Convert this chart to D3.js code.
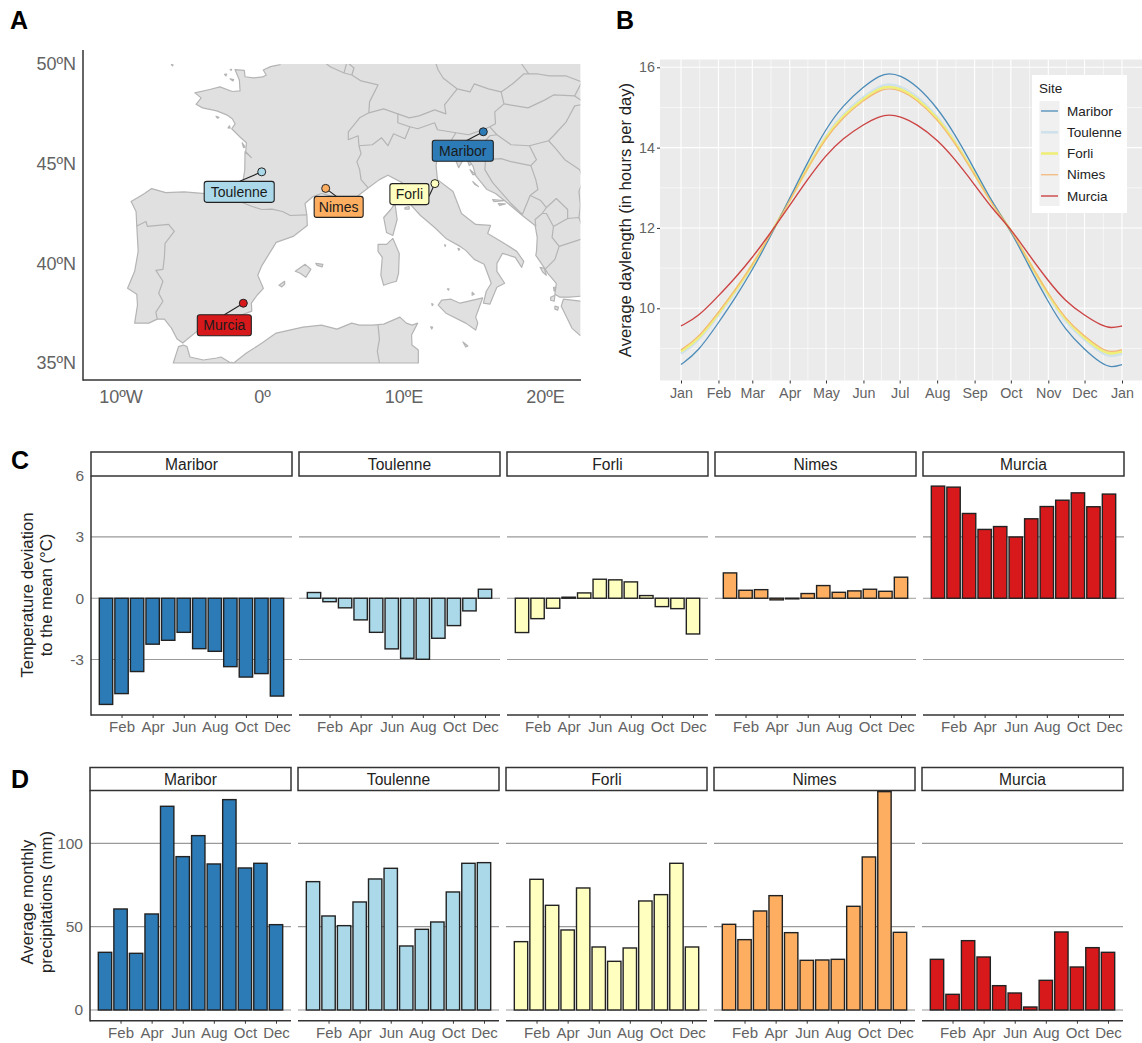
<!DOCTYPE html>
<html><head><meta charset="utf-8">
<script src="https://cdn.jsdelivr.net/npm/d3@7"></script>
<style>html,body{margin:0;padding:0;background:#fff;overflow:hidden}svg{display:block}text{font-family:"Liberation Sans",Arial,sans-serif}</style>
</head><body><svg id="c" width="1142" height="1043"></svg>
<script>
// ---------- data ----------
const sites = ["Maribor","Toulenne","Forli","Nimes","Murcia"];
const siteColors = ["#2c7bb6","#abd9e9","#ffffbf","#fdae61","#d7191c"];
const months = ["Jan","Feb","Mar","Apr","May","Jun","Jul","Aug","Sep","Oct","Nov","Dec"];
const evenMonths = ["Feb","Apr","Jun","Aug","Oct","Dec"];

// site locations, degrees
const siteLon = [15.64,-0.02,12.22,4.5,-1.32];
const siteLat = [46.6,44.59,44.0,43.76,38.0];

// temperature deviation to the mean (°C)
const tempMaribor = [-5.2,-4.67,-3.59,-2.25,-2.06,-1.67,-2.47,-2.6,-3.35,-3.86,-3.69,-4.79];
const tempToulenne = [0.28,-0.17,-0.47,-1.06,-1.67,-2.48,-2.94,-2.99,-1.96,-1.34,-0.62,0.44];
const tempForli = [-1.68,-1.0,-0.49,0.05,0.26,0.93,0.9,0.8,0.13,-0.41,-0.51,-1.75];
const tempNimes = [1.24,0.39,0.42,-0.08,-0.03,0.23,0.62,0.29,0.36,0.44,0.34,1.03];
const tempMurcia = [5.49,5.44,4.15,3.37,3.51,3.0,3.89,4.49,4.8,5.16,4.48,5.1];

// average monthly precipitation (mm)
const rainMaribor = [34.6,60.6,34,57.6,122.2,92,104.6,87.6,126.2,85.2,88,51.2];
const rainToulenne = [77,56.4,50.6,64.8,78.6,85,38.4,48.4,52.8,70.8,88,88.4];
const rainForli = [41,78.4,62.8,48,73.2,37.8,29.2,37.2,65.4,69.2,88,37.8];
const rainNimes = [51.4,42.2,59.4,68.6,46.4,29.8,30,30.4,62.2,91.8,131,46.6];
const rainMurcia = [30.4,9.4,41.6,31.8,14.6,10.2,1.8,17.8,46.8,25.8,37.4,34.6];

// daylength (hours per day)
const dayDates = ["2019-01-01","2019-01-15","2019-02-01","2019-02-15","2019-03-01","2019-03-15","2019-04-01","2019-04-15","2019-05-01","2019-05-15","2019-06-01","2019-06-15","2019-06-22","2019-07-01","2019-07-15","2019-08-01","2019-08-15","2019-09-01","2019-09-15","2019-10-01","2019-10-15","2019-11-01","2019-11-15","2019-12-01","2019-12-15","2019-12-23","2020-01-01"];
const dayMaribor = [8.60,8.91,9.64,10.26,10.95,11.73,12.74,13.59,14.48,15.05,15.52,15.81,15.85,15.81,15.55,15.00,14.37,13.46,12.66,11.94,11.10,10.15,9.46,8.97,8.62,8.52,8.60];
const dayToulenne = [8.87,9.16,9.83,10.40,11.04,11.77,12.70,13.49,14.31,14.84,15.27,15.55,15.58,15.54,15.30,14.79,14.21,13.37,12.63,11.95,11.18,10.30,9.66,9.21,8.88,8.79,8.87];
const dayForli = [8.93,9.21,9.87,10.44,11.06,11.78,12.69,13.46,14.28,14.79,15.22,15.49,15.52,15.48,15.24,14.75,14.18,13.35,12.62,11.96,11.20,10.34,9.71,9.26,8.94,8.85,8.93];
const dayNimes = [8.97,9.25,9.90,10.46,11.08,11.78,12.68,13.45,14.25,14.75,15.18,15.44,15.47,15.44,15.20,14.71,14.15,13.33,12.61,11.96,11.21,10.36,9.74,9.30,8.99,8.90,8.97];
const dayMurcia = [9.56,9.78,10.31,10.76,11.26,11.83,12.56,13.18,13.82,14.23,14.58,14.79,14.82,14.79,14.59,14.20,13.74,13.08,12.50,11.98,11.37,10.68,10.18,9.82,9.57,9.50,9.56];

// map: [lon, lat]
const mainland = [[1.27,49.97],[0.6,49.87],[0.09,49.7],[0.3,49.45],[0.05,49.35],[-0.61,49.3],[-1.2,49.36],[-1.25,49.68],[-1.91,49.72],[-1.6,49.2],[-1.55,48.65],[-2.1,48.62],[-2.97,48.85],[-3.7,48.72],[-4.74,48.55],[-4.3,48.3],[-4.66,47.98],[-4.2,47.8],[-3.2,47.65],[-2.5,47.45],[-2.1,47.25],[-1.9,47.0],[-2.14,46.75],[-1.5,46.3],[-1.1,46.05],[-1.15,45.6],[-0.75,45.3],[-1.2,45.6],[-1.22,44.67],[-1.43,43.76],[-1.78,43.37],[-3,43.45],[-3.8,43.48],[-5.5,43.58],[-6.8,43.55],[-7.8,43.75],[-8.3,43.5],[-9.25,43.1],[-8.9,42.6],[-8.85,41.87],[-8.75,40.6],[-9.0,39.6],[-9.5,38.75],[-8.85,38.45],[-8.8,37.9],[-9.0,37.0],[-8.0,37.0],[-7.4,37.2],[-6.9,37.2],[-6.4,36.75],[-6.0,36.2],[-5.6,36.0],[-5.35,36.15],[-4.4,36.7],[-3.5,36.7],[-2.7,36.72],[-2.2,36.72],[-1.65,37.35],[-0.72,37.6],[-0.75,38.0],[-0.35,38.4],[0.1,38.74],[-0.3,39.4],[0.0,39.9],[0.7,40.7],[1.0,41.05],[2.2,41.35],[3.2,41.9],[3.17,42.43],[3.04,43.0],[3.6,43.35],[4.2,43.5],[4.9,43.38],[5.4,43.2],[6.2,43.05],[6.9,43.45],[7.5,43.78],[8.3,44.2],[8.9,44.42],[9.9,44.05],[10.3,43.5],[10.5,42.95],[11.2,42.4],[12.2,41.8],[13.0,41.25],[14.0,40.85],[14.4,40.65],[15.0,40.2],[15.7,39.95],[16.2,39.0],[15.85,38.6],[15.65,38.0],[16.1,37.95],[16.6,38.8],[17.15,39.0],[16.6,39.6],[16.6,40.0],[17.0,40.5],[17.9,40.3],[18.35,39.8],[18.5,40.1],[18.0,40.6],[16.9,41.1],[15.95,41.5],[16.15,41.9],[15.1,41.95],[14.1,42.5],[13.5,43.6],[12.4,44.2],[12.3,44.9],[12.4,45.4],[13.1,45.7],[13.75,45.65],[13.55,45.4],[13.9,44.8],[14.3,45.3],[14.9,44.9],[15.1,44.4],[15.9,43.7],[16.5,43.5],[17.4,43.0],[18.4,42.4],[19.3,41.9],[19.45,41.3],[19.4,40.6],[19.35,40.4],[19.88,39.85],[20.2,39.5],[20.8,39.0],[20.7,38.45],[21.06,38.3],[21.7,38.3],[22.5,38.35],[23,38.35],[23,50.5],[1.27,50.5]];
const africa = [[-6.27,35],[-5.9,35.82],[-5.56,35.9],[-5.3,35.82],[-5.09,35.3],[-4.14,35.15],[-3.2,35.25],[-2.9,35.3],[-2.2,35.0],[-2.0,35],[-1.1,35.5],[0.0,36.0],[1.0,36.5],[2.9,36.8],[4.2,36.9],[5.3,36.7],[6.34,37.0],[6.9,36.9],[7.8,36.9],[8.6,36.95],[9.75,37.3],[10.2,37.0],[10.6,36.9],[11.0,37.0],[10.57,36.4],[10.6,35.9],[11.05,35.65],[11.05,35.0]];
const sicily = [[12.45,37.9],[12.7,38.15],[13.35,38.2],[14.0,38.0],[15.6,38.27],[15.1,37.3],[15.25,37.0],[15.1,36.65],[14.4,37.0],[13.0,37.5]];
const sardinia = [[8.2,40.95],[8.8,40.95],[9.25,41.25],[9.7,40.5],[9.65,39.5],[9.5,39.1],[9.0,39.0],[8.6,38.9],[8.4,39.4],[8.5,40.3],[8.2,40.6]];
const corsica = [[9.4,43.0],[9.55,42.2],[9.25,41.4],[8.8,41.55],[8.6,42.3],[9.1,42.7]];
const peloponnese = [[21.3,38.2],[22.5,38.1],[23,38],[23,36.3],[22.45,36.4],[21.9,36.75],[21.6,37.2],[21.15,37.85]];
const mallorca = [[2.35,39.6],[3.05,39.95],[3.45,39.7],[3.1,39.3],[2.7,39.5]];
const menorca = [[3.8,40.0],[4.3,39.95],[4.25,39.82],[3.9,39.9]];
const ibiza = [[1.2,38.9],[1.6,39.1],[1.6,38.95],[1.4,38.82]];
const corfu = [[19.65,39.8],[19.95,39.75],[20.1,39.4],[19.85,39.55]];
const kefalonia = [[20.4,38.3],[20.7,38.4],[20.65,38.1],[20.4,38.15]];
const zakynthos = [[20.7,37.85],[20.95,37.8],[20.9,37.65],[20.7,37.7]];
const lefkada = [[20.6,38.8],[20.75,38.8],[20.65,38.6]];
const malta = [[14.2,36.05],[14.55,35.85],[14.4,35.8]];
const elba = [[10.1,42.8],[10.4,42.85],[10.4,42.72],[10.1,42.72]];
const krk = [[14.5,45.2],[14.8,45.0],[14.65,44.9]];
const pag = [[14.7,44.7],[15.1,44.45],[14.9,44.45]];
const hvar = [[16.3,43.2],[17.1,43.15],[16.4,43.1]];
const korcula = [[16.7,43.0],[17.2,42.98],[16.8,42.9]];
const dugi = [[14.9,44.1],[15.3,43.85],[15.05,43.95]];
const oleron = [[-1.4,46.05],[-1.2,45.85],[-1.3,45.8]];
const re = [[-2.4,46.8],[-2.3,46.9],[-2.25,46.78]];
const belleIle = [[-3.25,47.38],[-3.05,47.32],[-3.15,47.28]];
const jersey = [[-2.25,49.25],[-2.0,49.22],[-2.05,49.15]];
const guernsey = [[-2.65,49.48],[-2.5,49.5],[-2.55,49.4]];
const alderney = [[-2.25,49.72],[-2.15,49.73],[-2.18,49.68]];
const pantelleria = [[11.92,36.82],[12.06,36.8],[12.0,36.7]];
const ustica = [[13.1,38.72],[13.22,38.72],[13.18,38.65]];
const egadi = [[12.0,37.98],[12.1,37.95],[12.03,37.88]];
const lipari = [[14.85,38.55],[15.0,38.45],[14.85,38.4]];
const capri = [[13.85,40.75],[13.97,40.72],[13.92,40.65]];
const ponza = [[12.9,40.93],[12.98,40.92],[12.95,40.85]];
const scilly = [[-6.4,49.97],[-6.28,49.96],[-6.33,49.9]];
const landShapes = [mainland,africa,sicily,sardinia,corsica,peloponnese,mallorca,menorca,ibiza,corfu,kefalonia,zakynthos,lefkada,malta,elba,krk,pag,hvar,korcula,dugi,oleron,re,belleIle,jersey,guernsey,alderney,pantelleria,ustica,egadi,lipari,capri,ponza,scilly];

const bPyrenees = [[-1.78,43.37],[-1.4,43.05],[-0.7,42.85],[0.0,42.7],[0.7,42.72],[1.45,42.6],[2.0,42.4],[3.17,42.43]];
const bPortugal = [[-8.85,41.87],[-8.2,42.1],[-8.1,41.85],[-6.6,41.95],[-6.2,41.6],[-6.85,41],[-6.9,40.3],[-7.0,39.7],[-7.5,39.65],[-7.0,39.1],[-7.3,38.5],[-7.0,38.1],[-7.5,37.55],[-7.4,37.2]];
const bFranceNorth = [[4.2,50.2],[4.85,49.85],[5.8,49.55],[6.35,49.45],[7.0,49.15],[8.2,48.95],[7.6,48.1],[7.55,47.55]];
const bLux = [[5.8,49.55],[6.0,50.1],[6.5,49.8],[6.35,49.45]];
const bFranceSwiss = [[7.55,47.55],[6.9,47.3],[6.1,46.6],[6.1,46.2],[6.8,46.4],[6.85,45.9]];
const bFranceItaly = [[7.5,43.78],[7.0,44.2],[6.9,44.7],[6.7,45.1],[7.0,45.5],[6.85,45.9]];
const bSwissItaly = [[6.85,45.9],[7.8,45.95],[8.45,46.3],[8.9,45.9],[9.3,46.5],[10.1,46.25],[10.45,46.85]];
const bSwissNorth = [[7.55,47.55],[8.6,47.75],[9.6,47.5],[9.6,47.05],[10.45,46.85]];
const bGermanyAustria = [[9.6,47.5],[10.4,47.3],[11.1,47.4],[12.2,47.7],[13.0,47.5],[12.9,47.95],[13.4,48.4],[13.8,48.75]];
const bGermanyCzech = [[13.8,48.75],[12.8,49.3],[12.45,49.7],[12.2,50.2]];
const bItalyAustria = [[10.45,46.85],[11,46.75],[12.2,47.05],[12.4,46.7],[13.7,46.55]];
const bItalySlovenia = [[13.7,46.55],[13.4,46.2],[13.6,45.9],[13.75,45.65]];
const bAustriaSlovenia = [[13.7,46.55],[14.6,46.45],[15.6,46.7],[16.1,46.85]];
const bAustriaHungary = [[16.1,46.85],[16.5,47.0],[16.45,47.6],[17.1,48.0]];
const bAustriaCzech = [[13.8,48.75],[14.7,48.6],[15.0,49.0],[16.0,48.75],[16.9,48.6],[17.1,48.0]];
const bCzechSlovakia = [[16.9,48.6],[17.7,49.0],[18.5,49.5],[18.85,49.5]];
const bCzechPoland = [[18.85,49.5],[18.4,49.95],[18.2,50.2]];
const bSlovakiaPoland = [[18.85,49.5],[19.5,49.5],[20.3,49.4],[21.5,49.4],[22.6,49.1]];
const bSlovakiaHungary = [[17.1,48.0],[18.8,47.8],[20.0,48.2],[20.6,48.45],[22.1,48.4]];
const bSlovakiaUkraine = [[22.6,49.1],[22.1,48.4],[22.9,48.0]];
const bHungaryRomania = [[22.9,48.0],[22.1,47.9],[21.5,47.1],[20.6,46.4],[20.25,46.15]];
const bHungarySouth = [[16.1,46.85],[16.6,46.45],[17.6,45.95],[18.9,45.9],[20.25,46.15]];
const bRomaniaSerbia = [[20.25,46.15],[20.7,45.8],[21.4,45.2],[22.45,44.7],[22.7,44.2]];
const bSerbiaBulgaria = [[22.7,44.2],[22.4,43.6],[22.5,42.9],[22.4,42.3]];
const bSerbiaCroatia = [[18.9,45.9],[19.4,45.2],[19.0,44.9]];
const bSloveniaCroatia = [[13.6,45.45],[14.6,45.6],[15.3,45.5],[15.6,46.0],[16.1,46.4],[16.6,46.45]];
const bCroatiaBosnia = [[19.0,44.9],[17.6,45.1],[16.9,45.25],[15.8,45.2],[15.75,44.7],[16.3,44.05],[17.6,43.0],[18.4,42.45]];
const bBosniaSerbia = [[19.0,44.9],[19.35,44.2],[19.5,43.7],[18.95,43.4],[18.4,42.45]];
const bMontenegro = [[18.95,43.4],[19.7,43.15],[20.1,42.8],[19.8,42.5],[19.3,42.2],[19.35,41.85]];
const bKosovo = [[20.1,42.8],[20.8,43.25],[21.6,42.7],[21.6,42.25],[20.6,41.85],[20.1,42.5],[19.8,42.5]];
const bAlbania = [[20.6,41.85],[20.5,41.3],[21.0,40.85],[20.7,40.2],[20.0,39.7]];
const bMacedonia = [[21.0,40.85],[22.3,41.15],[22.9,41.3],[22.4,42.3],[21.6,42.25]];
const bAlgeriaMorocco = [[-2.0,35],[-2.2,35.05]];
const bAlgeriaTunisia = [[8.2,36.9],[8.3,36.2],[8.15,35.6],[8.3,35]];
const borderLines = [bPyrenees,bPortugal,bFranceNorth,bLux,bFranceSwiss,bFranceItaly,bSwissItaly,bSwissNorth,bGermanyAustria,bGermanyCzech,bItalyAustria,bItalySlovenia,bAustriaSlovenia,bAustriaHungary,bAustriaCzech,bCzechSlovakia,bCzechPoland,bSlovakiaPoland,bSlovakiaHungary,bSlovakiaUkraine,bHungaryRomania,bHungarySouth,bRomaniaSerbia,bSerbiaBulgaria,bSerbiaCroatia,bSloveniaCroatia,bCroatiaBosnia,bBosniaSerbia,bMontenegro,bKosovo,bAlbania,bMacedonia,bAlgeriaMorocco,bAlgeriaTunisia];

// ---------- drawing ----------
const svg = d3.select("#c");
const dark = "#333", tickCol = "#636363";
function tag(s,x,y){svg.append("text").attr("x",x).attr("y",y).attr("font-size",25).attr("font-weight","bold").attr("fill","#000").text(s);}
tag("A",10,29);tag("B",616,29);tag("C",11,469);tag("D",11,788);

// ----- A: map -----
const lonS = d3.scaleLinear().domain([-10,20]).range([120.5,545]);
const latS = d3.scaleLinear().domain([35,50]).range([363,64]);
const gA = svg.append("g");
gA.append("clipPath").attr("id","mapClip").append("rect").attr("x",84).attr("y",latS(50)).attr("width",lonS(22.5)-84).attr("height",latS(35)-latS(50)+1.2);
const lineGeo = d3.line().x(d=>lonS(d[0])).y(d=>latS(d[1]));
const mapG = gA.append("g").attr("clip-path","url(#mapClip)");
mapG.selectAll("path.land").data(landShapes).join("path").attr("class","land")
  .attr("d",d=>lineGeo(d)+"Z").attr("fill","#e0e0e0").attr("stroke","#b4b4b4").attr("stroke-width",1.2).attr("stroke-linejoin","round");
mapG.selectAll("path.border").data(borderLines).join("path").attr("class","border")
  .attr("d",lineGeo).attr("fill","none").attr("stroke","#b4b4b4").attr("stroke-width",1.2).attr("stroke-linejoin","round");

const axM = gA.append("g").attr("transform","translate(0,380)")
  .call(d3.axisBottom(lonS).tickValues([-10,0,10,20]).tickSize(0).tickPadding(10).tickFormat(d=>d<0?(-d)+"ºW":d>0?d+"ºE":"0º"));
const ayM = gA.append("g").attr("transform","translate(83,0)")
  .call(d3.axisLeft(latS).tickValues([35,40,45,50]).tickSize(0).tickPadding(7).tickFormat(d=>d+"ºN"));
[axM,ayM].forEach(a=>{a.select(".domain").remove();a.selectAll("text").attr("font-size",18).attr("font-family",null).attr("fill",tickCol);});
gA.append("line").attr("x1",83).attr("x2",83).attr("y1",50).attr("y2",380.7).attr("stroke",dark).attr("stroke-width",1.5);
gA.append("line").attr("x1",83).attr("x2",581).attr("y1",380).attr("y2",380).attr("stroke",dark).attr("stroke-width",1.5);

// label boxes are placed by screen offset from each site's marker
const labelDx = [-20.5,-22.5,-25.5,13,-19]; // box centre minus marker x
const labelDy = [19,20,10.5,18.5,22];        // box centre minus marker y
const labelW = [61,70,39,49,54];
const leadDx = [-17,-22,-6,14,-19];         // leader end minus marker x
const leadDy = [9,9.5,13,10.5,11.5];        // leader end minus marker y
sites.forEach((s,i)=>{
  const mx=lonS(siteLon[i]), my=latS(siteLat[i]);
  const g=gA.append("g");
  g.append("line").attr("x1",mx).attr("y1",my).attr("x2",mx+leadDx[i]).attr("y2",my+leadDy[i]).attr("stroke","#222").attr("stroke-width",1.1);
  g.append("rect").attr("x",mx+labelDx[i]-labelW[i]/2).attr("y",my+labelDy[i]-10.5).attr("width",labelW[i]).attr("height",21).attr("rx",2.5)
    .attr("fill",siteColors[i]).attr("stroke","#222").attr("stroke-width",1.1);
  g.append("text").attr("x",mx+labelDx[i]).attr("y",my+labelDy[i]+5).attr("text-anchor","middle").attr("font-size",14).attr("fill","#1a1a1a").text(s);
  g.append("circle").attr("cx",mx).attr("cy",my).attr("r",4).attr("fill",siteColors[i]).attr("stroke","#222").attr("stroke-width",1);
});

// ----- B: daylength -----
const parseD = d3.utcParse("%Y-%m-%d");
const dts = dayDates.map(parseD);
const tS = d3.scaleUtc().domain([parseD("2019-01-01"),parseD("2020-01-01")]).range([681,1122]);
const hS = d3.scaleLinear().domain([10,16]).range([308.3,67.3]);
const pB = {x0:660,x1:1143,y0:59.5,y1:380.5};
const gB = svg.append("g");
gB.append("rect").attr("x",pB.x0).attr("y",pB.y0).attr("width",pB.x1-pB.x0).attr("height",pB.y1-pB.y0).attr("fill","#ebebeb");
const monthStarts = d3.utcMonth.range(parseD("2019-01-01"),parseD("2020-01-02"));
const midStarts = monthStarts.slice(0,-1).map((d,i)=>new Date((+d + +monthStarts[i+1])/2));
gB.selectAll("line.vmin").data(midStarts).join("line").attr("x1",d=>tS(d)).attr("x2",d=>tS(d)).attr("y1",pB.y0).attr("y2",pB.y1).attr("stroke","#fff").attr("stroke-width",.6);
gB.selectAll("line.vmaj").data(monthStarts).join("line").attr("x1",d=>tS(d)).attr("x2",d=>tS(d)).attr("y1",pB.y0).attr("y2",pB.y1).attr("stroke","#fff").attr("stroke-width",1.1);
gB.selectAll("line.hmin").data([9,11,13,15]).join("line").attr("x1",pB.x0).attr("x2",pB.x1).attr("y1",d=>hS(d)).attr("y2",d=>hS(d)).attr("stroke","#fff").attr("stroke-width",.6);
gB.selectAll("line.hmaj").data([10,12,14,16]).join("line").attr("x1",pB.x0).attr("x2",pB.x1).attr("y1",d=>hS(d)).attr("y2",d=>hS(d)).attr("stroke","#fff").attr("stroke-width",1.1);
const dayLines = [dayMaribor,dayToulenne,dayForli,dayNimes,dayMurcia];
const lineCols = ["#4d8cb9","#cfe1eb","#eeee78","#f4b676","#cc4444"];
const lineW = [1.3,2.6,2.6,1.2,1.4];
const dayLine = d3.line().x((d,i)=>tS(dts[i])).y(d=>hS(d)).curve(d3.curveBasis);
[1,2,0,3,4].forEach(i=>gB.append("path").attr("d",dayLine(dayLines[i])).attr("fill","none").attr("stroke",lineCols[i]).attr("stroke-width",lineW[i]));
const axB = gB.append("g").attr("transform",`translate(0,${pB.y1})`)
  .call(d3.axisBottom(tS).tickValues(monthStarts).tickSize(3).tickPadding(4).tickFormat(d3.utcFormat("%b")));
const ayB = gB.append("g").attr("transform",`translate(${pB.x0},0)`)
  .call(d3.axisLeft(hS).tickValues([10,12,14,16]).tickSize(3).tickPadding(2).tickFormat(d3.format("d")));
[axB,ayB].forEach(a=>{a.select(".domain").remove();a.selectAll("text").attr("font-size",14.3).attr("font-family",null).attr("fill",tickCol);a.selectAll("line").attr("stroke",dark);});
gB.append("text").attr("transform","translate(631,220) rotate(-90)").attr("text-anchor","middle").attr("font-size",16.7).attr("fill","#222").text("Average daylength (in hours per day)");
// legend
gB.append("rect").attr("x",1032).attr("y",75).attr("width",95).attr("height",138).attr("fill","#fff");
gB.append("text").attr("x",1039).attr("y",93).attr("font-size",13.5).attr("fill","#222").text("Site");
const legY = d3.scalePoint().domain(sites).range([111,196]);
gB.append("rect").attr("x",1039.5).attr("y",101).attr("width",20).attr("height",105).attr("fill","#f0f0f0");
sites.forEach((s,i)=>{
  gB.append("line").attr("x1",1041).attr("x2",1058).attr("y1",legY(s)).attr("y2",legY(s)).attr("stroke",lineCols[i]).attr("stroke-width",lineW[i]);
  gB.append("text").attr("x",1067).attr("y",legY(s)+4.5).attr("font-size",13.5).attr("fill","#222").text(s);
});

// ----- C & D: facets -----
function facets(cfg){
  const g = svg.append("g");
  sites.forEach((s,i)=>{
    const x0=cfg.x0+208*i, x1=x0+201;
    const xS=d3.scalePoint().domain(months).range([x0,x1]).padding(0.965);
    const bw=xS.step()*0.86;
    const pg=g.append("g");
    pg.append("rect").attr("x",x0).attr("y",cfg.stripTop).attr("width",201).attr("height",cfg.panelTop-cfg.stripTop).attr("fill","#fff").attr("stroke",dark).attr("stroke-width",1.5);
    pg.append("text").attr("x",(x0+x1)/2).attr("y",(cfg.stripTop+cfg.panelTop)/2+5.5).attr("text-anchor","middle").attr("font-size",15.6).attr("fill","#222").text(s);
    pg.selectAll("line.grid").data(cfg.grid).join("line").attr("x1",x0).attr("x2",x1).attr("y1",d=>cfg.y(d)).attr("y2",d=>cfg.y(d)).attr("stroke","#9a9a9a").attr("stroke-width",1.2);
    pg.selectAll("rect.bar").data(cfg.values[i]).join("rect").attr("class","bar")
      .attr("x",(d,j)=>xS(months[j])-bw/2).attr("width",bw)
      .attr("y",d=>Math.min(cfg.y(d),cfg.y(0))).attr("height",d=>Math.abs(cfg.y(d)-cfg.y(0)))
      .attr("fill",siteColors[i]).attr("stroke","#222").attr("stroke-width",1.4);
    const ax=pg.append("g").attr("transform",`translate(0,${cfg.axisY})`).call(d3.axisBottom(xS).tickValues(evenMonths).tickSize(3).tickPadding(cfg.pad));
    ax.select(".domain").remove();
    ax.selectAll("text").attr("font-size",15).attr("font-family",null).attr("fill",tickCol);
    ax.selectAll("line").attr("stroke",dark);
    pg.append("line").attr("x1",x0).attr("x2",x1).attr("y1",cfg.axisY).attr("y2",cfg.axisY).attr("stroke",dark).attr("stroke-width",1.5);
  });
  const ay=g.append("g").attr("transform",`translate(${cfg.x0},0)`).call(d3.axisLeft(cfg.y).tickValues(cfg.ticks).tickSize(0).tickPadding(7).tickFormat(String));
  ay.select(".domain").remove();
  ay.selectAll("text").attr("font-size",15.5).attr("font-family",null).attr("fill",tickCol);
  g.append("line").attr("x1",cfg.x0).attr("x2",cfg.x0).attr("y1",cfg.panelTop).attr("y2",cfg.axisY+.7).attr("stroke",dark).attr("stroke-width",1.5);
  cfg.title.forEach((t,k)=>g.append("text").attr("transform",`translate(${[33,52][k]},${cfg.titleY}) rotate(-90)`).attr("text-anchor","middle").attr("font-size",16.7).attr("fill","#222").text(t));
}
facets({x0:91,stripTop:452,panelTop:476,axisY:715,pad:3,
  y:d3.scaleLinear().domain([-3,6]).range([659.5,475.7]),grid:[3,0,-3],ticks:[6,3,0,-3],
  values:[tempMaribor,tempToulenne,tempForli,tempNimes,tempMurcia],
  title:["Temperature deviation","to the mean (°C)"],titleY:595});
facets({x0:90,stripTop:767.5,panelTop:790.5,axisY:1020.7,pad:4,
  y:d3.scaleLinear().domain([0,100]).range([1010,843.3]),grid:[100,50,0],ticks:[100,50,0],
  values:[rainMaribor,rainToulenne,rainForli,rainNimes,rainMurcia],
  title:["Average monthly","precipitations (mm)"],titleY:902});
</script></body></html>
